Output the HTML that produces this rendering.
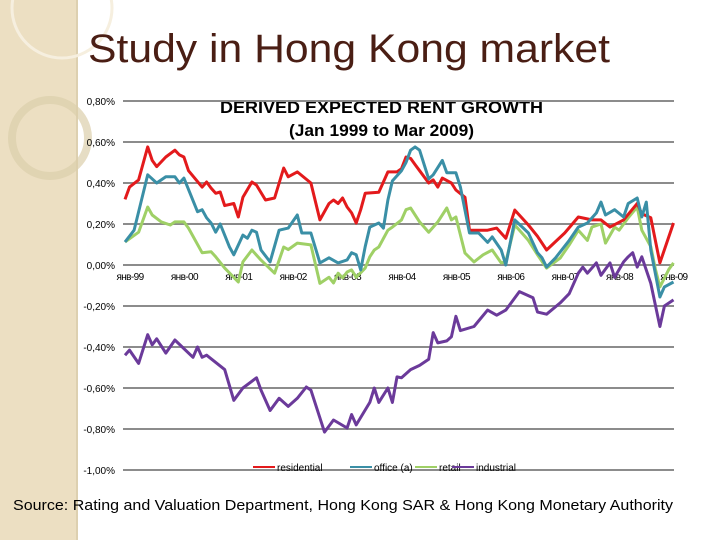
<!DOCTYPE html>
<html><head><meta charset="utf-8"><style>
body{margin:0;width:720px;height:540px;overflow:hidden;background:#fff;font-family:"Liberation Sans",sans-serif}
</style></head><body>
<svg width="720" height="540" viewBox="0 0 720 540">
<g>
<rect x="0" y="0" width="78" height="540" fill="#ecdfc2"/>
<rect x="76" y="0" width="2" height="540" fill="#ddd0b0"/>
<circle cx="62" cy="8" r="50" fill="none" stroke="#f6efdf" stroke-width="3"/>
<circle cx="50" cy="138" r="38" fill="none" stroke="#dccfab" stroke-width="8" opacity="0.7"/>
</g>
<text x="88" y="62" font-size="40" textLength="522" lengthAdjust="spacingAndGlyphs" fill="#4a1e14">Study in Hong Kong market</text>
<text x="220" y="113" font-size="17" font-weight="bold" textLength="323" lengthAdjust="spacingAndGlyphs">DERIVED EXPECTED RENT GROWTH</text>
<text x="289" y="136" font-size="17" font-weight="bold" textLength="185" lengthAdjust="spacingAndGlyphs">(Jan 1999 to Mar 2009)</text>
<g id="grid"></g><g id="ylab"></g><g id="xlab"></g><g id="series"></g>
<g font-size="10">
<line x1="253" y1="467" x2="275" y2="467" stroke="#e31a1c" stroke-width="2"/><text x="277" y="471">residential</text>
<line x1="350" y1="467" x2="372" y2="467" stroke="#3a8fa6" stroke-width="2"/><text x="374" y="471">office (a)</text>
<line x1="415" y1="467" x2="437" y2="467" stroke="#9fd066" stroke-width="2"/><text x="439" y="471">retail</text>
<line x1="452" y1="467" x2="474" y2="467" stroke="#6b3a9a" stroke-width="2"/><text x="476" y="471">industrial</text>
</g>
<text x="13" y="510" font-size="15" textLength="660" lengthAdjust="spacingAndGlyphs">Source: Rating and Valuation Department, Hong Kong SAR &amp; Hong Kong Monetary Authority</text>
</svg>
<script>
const yTicks=[0.8,0.6,0.4,0.2,0,-0.2,-0.4,-0.6,-0.8,-1.0];
const xTickLabels=["янв-99","янв-00","янв-01","янв-02","янв-03","янв-04","янв-05","янв-06","янв-07","янв-08","янв-09"];
const resMonths=[0,1,3,5,6,7,9,11,12,13,14,17,18,19,20,21,22,24,25,26,28,29,31,33,35,36,38,41,43,45,46,47,48,49,50,51,52,53,56,57,58,60,61,62,63,64,65,67,68,69,70,72,73,75,76,80,82,84,86,89,91,93,97,100,103,105,107,110,113,114,116,118,121];
const resValues=[0.32,0.38,0.415,0.576,0.51,0.48,0.527,0.56,0.537,0.527,0.46,0.38,0.405,0.375,0.35,0.356,0.29,0.30,0.234,0.33,0.405,0.39,0.317,0.327,0.473,0.43,0.454,0.40,0.22,0.30,0.317,0.30,0.327,0.283,0.254,0.205,0.27,0.35,0.355,0.405,0.454,0.454,0.47,0.527,0.52,0.49,0.46,0.40,0.415,0.38,0.424,0.40,0.366,0.33,0.17,0.17,0.18,0.13,0.268,0.195,0.14,0.073,0.156,0.234,0.22,0.22,0.185,0.22,0.30,0.25,0.23,0.01,0.205];
const offMonths=[0,2,5,7,9,11,12,13,16,17,18,19,20,21,23,24,26,27,28,29,30,32,34,36,38,39,41,43,45,47,49,50,51,52,53,54,56,57,58,59,61,62,63,64,65,67,68,70,71,73,74,76,78,80,81,83,84,86,89,91,92,93,95,98,100,102,104,105,106,108,110,111,113,114,115,116,118,119,121];
const offValues=[0.112,0.17,0.44,0.40,0.43,0.43,0.40,0.424,0.26,0.27,0.23,0.205,0.16,0.20,0.09,0.05,0.146,0.13,0.17,0.16,0.073,0.015,0.17,0.18,0.244,0.156,0.156,0.01,0.035,0.01,0.025,0.06,0.05,-0.024,0.09,0.185,0.205,0.18,0.317,0.41,0.46,0.50,0.56,0.576,0.56,0.42,0.44,0.51,0.45,0.45,0.38,0.156,0.156,0.11,0.137,0.073,0.0,0.22,0.156,0.06,0.035,-0.01,0.035,0.12,0.185,0.205,0.254,0.307,0.244,0.27,0.234,0.30,0.327,0.234,0.307,0.073,-0.156,-0.107,-0.083];
const retMonths=[0,3,5,6,8,10,11,13,14,17,19,20,22,25,26,28,30,33,35,36,38,41,43,45,46,47,48,49,50,51,53,54,55,56,58,59,61,62,63,65,67,69,71,72,73,75,77,79,81,83,84,86,89,91,93,96,98,100,102,103,105,106,108,109,111,113,114,116,117,118,120,121];
const retValues=[0.112,0.16,0.283,0.244,0.21,0.195,0.21,0.21,0.18,0.06,0.065,0.04,-0.015,-0.083,0.015,0.073,0.024,-0.04,0.088,0.075,0.107,0.098,-0.09,-0.06,-0.088,-0.04,-0.063,-0.034,-0.024,-0.06,-0.015,0.04,0.073,0.088,0.17,0.185,0.22,0.27,0.278,0.21,0.16,0.21,0.278,0.22,0.234,0.058,0.015,0.05,0.073,0.01,0.015,0.195,0.12,0.05,-0.015,0.034,0.098,0.17,0.12,0.185,0.20,0.107,0.185,0.17,0.23,0.283,0.17,0.09,-0.02,-0.107,-0.02,0.01];
const indMonths=[0,1,3,5,6,7,9,11,15,16,17,18,22,24,26,29,30,32,34,36,38,40,41,44,46,49,50,51,54,55,56,58,59,60,61,63,65,67,68,69,71,72,73,74,77,80,82,84,87,90,91,93,96,98,100,101,102,104,105,107,108,110,111,112,113,114,116,118,119,121];
const indValues=[-0.44,-0.415,-0.48,-0.34,-0.39,-0.36,-0.43,-0.366,-0.45,-0.40,-0.45,-0.44,-0.51,-0.66,-0.60,-0.55,-0.61,-0.71,-0.65,-0.69,-0.65,-0.595,-0.61,-0.815,-0.756,-0.795,-0.73,-0.78,-0.67,-0.60,-0.67,-0.60,-0.67,-0.546,-0.55,-0.51,-0.49,-0.46,-0.33,-0.38,-0.37,-0.35,-0.25,-0.32,-0.30,-0.22,-0.245,-0.22,-0.13,-0.16,-0.23,-0.24,-0.185,-0.14,-0.04,-0.01,-0.04,0.01,-0.05,0.01,-0.06,0.015,0.04,0.06,-0.01,0.04,-0.09,-0.30,-0.20,-0.17];

const NS="http://www.w3.org/2000/svg";
function xS(m){return 125+m*4.533;}
function yS(v){return 265-v*205;}
function mk(tag,attrs,parent){const e=document.createElementNS(NS,tag);for(const k in attrs)e.setAttribute(k,attrs[k]);parent.appendChild(e);return e;}
const grid=document.getElementById('grid'),ylab=document.getElementById('ylab'),xlab=document.getElementById('xlab'),ser=document.getElementById('series');
yTicks.forEach(v=>{
  const l=mk('line',{x1:123,x2:674,y1:yS(v),y2:yS(v),stroke:'#8c8c8c','stroke-width':2},grid);
  
  
  const t=mk('text',{x:115,y:yS(v)+4,'font-size':10,'text-anchor':'end'},ylab);
  t.textContent=v.toFixed(2).replace('.',',')+'%';
  
  
});
xTickLabels.forEach((s,i)=>{
  const t=mk('text',{x:xS(i*12)+5,y:280,'font-size':10,'text-anchor':'middle','letter-spacing':'-0.6'},xlab);
  t.textContent=s;
  
  
});
function line(ms,vs,color,name){
  const p=ms.map((m,i)=>xS(m).toFixed(1)+','+yS(vs[i]).toFixed(1)).join(' ');
  const e=mk('polyline',{points:p,fill:'none',stroke:color,'stroke-width':3,'stroke-linejoin':'round'},ser);
  
  
}
line(indMonths,indValues,'#6b3a9a','industrial-line');
line(retMonths,retValues,'#9fd066','retail-line');
line(resMonths,resValues,'#e31a1c','residential-line');
line(offMonths,offValues,'#3a8fa6','office-line');
</script>
</body></html>
